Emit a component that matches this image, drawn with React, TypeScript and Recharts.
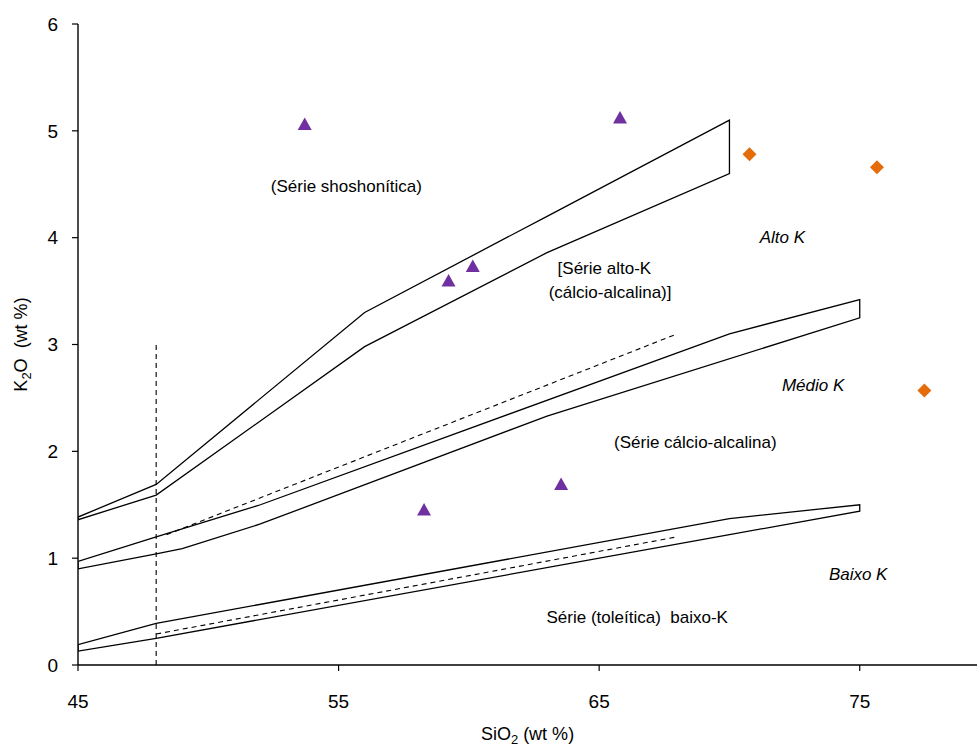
import React from 'react'
import { ScatterChart, Scatter, XAxis, YAxis, Label, ReferenceDot } from 'recharts'

// boundary bands (Peccerillo & Taylor style)
const shoX = [45, 48, 56, 63, 70]
const shoUpper = [1.385, 1.69, 3.3, 4.2, 5.1]
const shoLower = [1.36, 1.59, 2.98, 3.86, 4.6]

const hkUpperX = [45, 48, 52, 70, 75]
const hkUpper = [0.97, 1.2, 1.5, 3.1, 3.42]
const hkLowerX = [45, 48, 49, 52, 63, 75]
const hkLower = [0.9, 1.04, 1.09, 1.32, 2.33, 3.25]

const lkX = [45, 48, 70, 75]
const lkUpper = [0.19, 0.39, 1.37, 1.5]
const lkLower = [0.13, 0.25, 1.22, 1.44]

const dashMidX = [48.4, 68]
const dashMidY = [1.22, 3.1]
const dashLowX = [48, 68]
const dashLowY = [0.29, 1.2]
const dashVertX = [48, 48]
const dashVertY = [0, 3]

// samples
const triX = [53.7, 65.8, 59.22, 60.15, 58.28, 63.54]
const triY = [5.06, 5.12, 3.595, 3.73, 1.45, 1.69]
const diaX = [70.77, 75.66, 77.48]
const diaY = [4.78, 4.66, 2.57]

const xTicks = [45, 55, 65, 75]
const yTicks = [0, 1, 2, 3, 4, 5, 6]

const notes = [
  { text: '(Série shoshonítica)', x: 55.3, y: 4.48, italic: false },
  { text: '[Série alto-K', x: 65.2, y: 3.72, italic: false },
  { text: '(cálcio-alcalina)]', x: 65.42, y: 3.49, italic: false },
  { text: '(Série cálcio-alcalina)', x: 68.69, y: 2.09, italic: false },
  { text: 'Série (toleítica)\u00a0 baixo-K', x: 66.46, y: 0.45, italic: false },
  { text: 'Alto K', x: 72.03, y: 4.01, italic: true },
  { text: 'Médio K', x: 73.21, y: 2.62, italic: true },
  { text: 'Baixo K', x: 74.94, y: 0.85, italic: true },
]

const pts = (xs: number[], ys: number[]) => xs.map((x, i) => ({ x, y: ys[i] }))

const band = (ux: number[], uy: number[], lx: number[], ly: number[]) => {
  const up = pts(ux, uy)
  const lo = pts(lx, ly).reverse()
  return [...up, ...lo, up[0]]
}

const FONT = '"Liberation Sans", Arial, sans-serif'
const lineStyle = { stroke: '#000', strokeWidth: 1.3 }
const dashStyle = { stroke: '#000', strokeWidth: 1.1, strokeDasharray: '5 4' }
const noShape = () => <g />

const Triangle = (p: any) => {
  const { cx, cy } = p
  return <polygon points={`${cx},${cy - 7} ${cx - 7},${cy + 5.5} ${cx + 7},${cy + 5.5}`} fill="#7030A0" />
}
const Diamond = (p: any) => {
  const { cx, cy } = p
  return <polygon points={`${cx},${cy - 7} ${cx + 7},${cy} ${cx},${cy + 7} ${cx - 7},${cy}`} fill="#E46C0A" />
}

export default function App() {
  return (
    <div style={{ position: 'absolute', left: 0, top: 0, background: '#fff' }}>
      <ScatterChart width={977} height={749} margin={{ top: 24, right: 0, bottom: 24, left: 0 }}>
        <XAxis
          type="number"
          dataKey="x"
          domain={[45, 79.5]}
          ticks={xTicks}
          allowDataOverflow
          height={60}
          tickSize={6}
          tickMargin={24}
          axisLine={{ stroke: '#000', strokeWidth: 1.4 }}
          tickLine={{ stroke: '#000', strokeWidth: 1.2 }}
          tick={{ fill: '#000', fontSize: 19, fontFamily: FONT }}
        >
          <Label
            content={(props: any) => {
              const vb = props.viewBox
              return (
                <text x={vb.x + vb.width / 2} y={740} textAnchor="middle" fontSize={18} fontFamily={FONT} fill="#000">
                  SiO<tspan fontSize={13} dy={4}>2</tspan>
                  <tspan dy={-4}> (wt %)</tspan>
                </text>
              )
            }}
          />
        </XAxis>
        <YAxis
          type="number"
          dataKey="y"
          domain={[0, 6]}
          ticks={yTicks}
          width={78}
          tickSize={6}
          tickMargin={14}
          axisLine={{ stroke: '#000', strokeWidth: 1.4 }}
          tickLine={{ stroke: '#000', strokeWidth: 1.2 }}
          tick={{ fill: '#000', fontSize: 19, fontFamily: FONT }}
        >
          <Label
            content={(props: any) => {
              const vb = props.viewBox
              const cy = vb.y + vb.height / 2
              return (
                <text
                  x={27}
                  y={cy}
                  transform={`rotate(-90 27 ${cy})`}
                  textAnchor="middle"
                  fontSize={18}
                  fontFamily={FONT}
                  fill="#000"
                >
                  K<tspan fontSize={13} dy={4}>2</tspan>
                  <tspan dy={-4}>{'O\u00a0 (wt %)'}</tspan>
                </text>
              )
            }}
          />
        </YAxis>

        <Scatter data={band(shoX, shoUpper, shoX, shoLower)} line={lineStyle} shape={noShape} isAnimationActive={false} />
        <Scatter data={band(hkUpperX, hkUpper, hkLowerX, hkLower)} line={lineStyle} shape={noShape} isAnimationActive={false} />
        <Scatter data={band(lkX, lkUpper, lkX, lkLower)} line={lineStyle} shape={noShape} isAnimationActive={false} />
        <Scatter data={pts(dashMidX, dashMidY)} line={dashStyle} shape={noShape} isAnimationActive={false} />
        <Scatter data={pts(dashLowX, dashLowY)} line={dashStyle} shape={noShape} isAnimationActive={false} />
        <Scatter data={pts(dashVertX, dashVertY)} line={dashStyle} shape={noShape} isAnimationActive={false} />

        <Scatter data={pts(triX, triY)} shape={Triangle} isAnimationActive={false} />
        <Scatter data={pts(diaX, diaY)} shape={Diamond} isAnimationActive={false} />

        {notes.map((n) => (
          <ReferenceDot
            key={n.text}
            x={n.x}
            y={n.y}
            r={0}
            stroke="none"
            fill="none"
            label={(props: any) => {
              const vb = props.viewBox
              const cx = vb.x + (vb.width || 0) / 2
              const cy = vb.y + (vb.height || 0) / 2
              return (
                <text
                  x={cx}
                  y={cy}
                  dy="0.35em"
                  textAnchor="middle"
                  fontSize={17}
                  fontStyle={n.italic ? 'italic' : 'normal'}
                  fontFamily={FONT}
                  fill="#000"
                >
                  {n.text}
                </text>
              )
            }}
          />
        ))}
      </ScatterChart>
    </div>
  )
}
